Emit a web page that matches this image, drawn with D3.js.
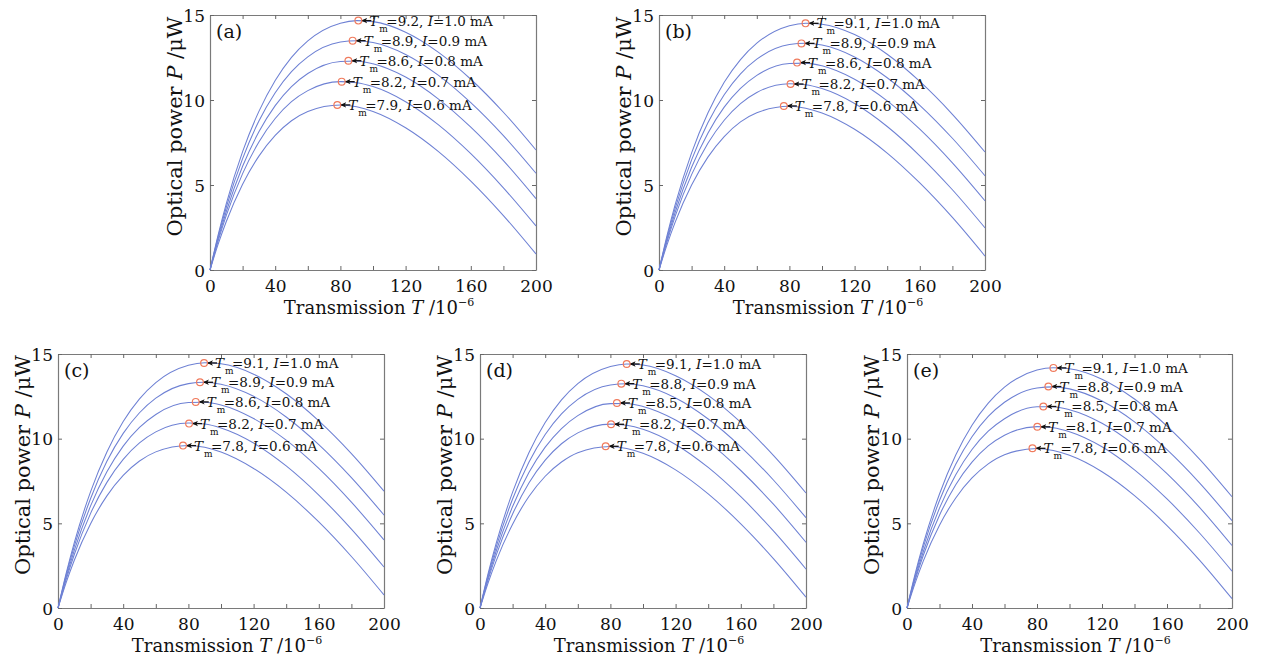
<!DOCTYPE html>
<html>
<head>
<meta charset="utf-8">
<script src="https://cdn.jsdelivr.net/npm/d3@7"></script>
<style>
  html, body { margin: 0; padding: 0; background: #fff; }
  svg { display: block; }
  svg text { font-family: "DejaVu Serif", "Liberation Serif", serif; }
</style>
</head>
<body>
<svg id="chart" width="1263" height="665"></svg>
<script>
// ---------- DATA ----------
const transmission = [0, 5, 10, 20, 30, 40, 50, 60, 80, 90, 100, 120, 140, 160, 180, 200];
const currents = ["1.0", "0.9", "0.8", "0.7", "0.6"];
const xTickValues = [0, 20, 40, 60, 80, 100, 120, 140, 160, 180, 200];
const xTickLabels = [0, 40, 80, 120, 160, 200];
const yTickValues = [0, 5, 10, 15];

const powerA = [
  [0, 2.07, 3.91, 6.96, 9.33, 11.15, 12.51, 13.48, 14.52, 14.67, 14.61, 13.99, 12.82, 11.22, 9.28, 7.06],
  [0, 1.96, 3.69, 6.55, 8.76, 10.43, 11.67, 12.54, 13.41, 13.49, 13.38, 12.68, 11.46, 9.84, 7.90, 5.69],
  [0, 1.83, 3.44, 6.10, 8.13, 9.67, 10.79, 11.56, 12.27, 12.30, 12.13, 11.35, 10.07, 8.40, 6.43, 4.20],
  [0, 1.71, 3.21, 5.67, 7.53, 8.91, 9.90, 10.55, 11.08, 11.02, 10.79, 9.90, 8.55, 6.84, 4.83, 2.59],
  [0, 1.52, 2.85, 5.04, 6.70, 7.92, 8.78, 9.33, 9.71, 9.60, 9.33, 8.37, 6.98, 5.23, 3.20, 0.94]
];
const powerB = [
  [0, 2.05, 3.87, 6.89, 9.23, 11.04, 12.38, 13.34, 14.37, 14.52, 14.46, 13.85, 12.69, 11.09, 9.16, 6.94],
  [0, 1.94, 3.65, 6.48, 8.66, 10.31, 11.54, 12.40, 13.26, 13.34, 13.23, 12.53, 11.31, 9.69, 7.75, 5.54],
  [0, 1.81, 3.41, 6.04, 8.05, 9.58, 10.68, 11.45, 12.15, 12.17, 12.01, 11.22, 9.95, 8.28, 6.30, 4.07],
  [0, 1.69, 3.18, 5.61, 7.45, 8.81, 9.79, 10.44, 10.96, 10.90, 10.67, 9.79, 8.44, 6.72, 4.72, 2.48],
  [0, 1.51, 2.83, 5.00, 6.64, 7.85, 8.71, 9.25, 9.63, 9.52, 9.24, 8.28, 6.88, 5.12, 3.09, 0.82]
];
const powerC = [
  [0, 2.04, 3.86, 6.87, 9.21, 11.01, 12.35, 13.31, 14.33, 14.48, 14.42, 13.81, 12.65, 11.05, 9.12, 6.90],
  [0, 1.94, 3.65, 6.47, 8.66, 10.31, 11.53, 12.39, 13.25, 13.33, 13.21, 12.50, 11.28, 9.65, 7.70, 5.49],
  [0, 1.81, 3.40, 6.03, 8.04, 9.56, 10.66, 11.43, 12.13, 12.15, 11.99, 11.19, 9.91, 8.24, 6.25, 4.02],
  [0, 1.68, 3.16, 5.59, 7.42, 8.78, 9.75, 10.40, 10.92, 10.86, 10.63, 9.74, 8.39, 6.67, 4.66, 2.42],
  [0, 1.50, 2.82, 4.98, 6.62, 7.83, 8.68, 9.22, 9.60, 9.49, 9.21, 8.24, 6.84, 5.08, 3.04, 0.77]
];
const powerD = [
  [0, 2.04, 3.84, 6.84, 9.17, 10.95, 12.29, 13.25, 14.26, 14.41, 14.35, 13.72, 12.56, 10.96, 9.01, 6.79],
  [0, 1.93, 3.62, 6.44, 8.61, 10.25, 11.46, 12.32, 13.17, 13.24, 13.12, 12.40, 11.16, 9.52, 7.56, 5.33],
  [0, 1.80, 3.38, 5.99, 8.00, 9.50, 10.60, 11.36, 12.07, 12.08, 11.90, 11.10, 9.81, 8.12, 6.13, 3.88],
  [0, 1.68, 3.14, 5.55, 7.38, 8.73, 9.70, 10.34, 10.86, 10.79, 10.56, 9.66, 8.30, 6.57, 4.55, 2.30],
  [0, 1.49, 2.80, 4.95, 6.58, 7.78, 8.62, 9.17, 9.54, 9.42, 9.14, 8.16, 6.74, 4.97, 2.92, 0.64]
];
const powerE = [
  [0, 2.01, 3.78, 6.73, 9.03, 10.79, 12.10, 13.04, 14.05, 14.19, 14.13, 13.51, 12.34, 10.74, 8.79, 6.57],
  [0, 1.90, 3.58, 6.35, 8.49, 10.11, 11.31, 12.15, 12.99, 13.06, 12.94, 12.22, 10.99, 9.35, 7.39, 5.16],
  [0, 1.77, 3.32, 5.90, 7.87, 9.36, 10.44, 11.18, 11.88, 11.89, 11.71, 10.91, 9.62, 7.93, 5.94, 3.69],
  [0, 1.65, 3.10, 5.48, 7.28, 8.61, 9.57, 10.20, 10.71, 10.65, 10.41, 9.52, 8.16, 6.44, 4.43, 2.18],
  [0, 1.47, 2.77, 4.89, 6.50, 7.68, 8.51, 9.05, 9.42, 9.30, 9.02, 8.05, 6.64, 4.87, 2.83, 0.55]
];

const peakTA = [91, 87.5, 84.9, 80.8, 78.1];
const peakPA = [14.67, 13.49, 12.31, 11.08, 9.71];
const peakTB = [89.9, 87.4, 84.7, 80.7, 76.6];
const peakPB = [14.51, 13.33, 12.2, 10.94, 9.65];
const peakTC = [89.6, 87.1, 84.5, 80.4, 76.7];
const peakPC = [14.47, 13.33, 12.17, 10.89, 9.59];
const peakTD = [90, 86.7, 84, 80.4, 77.1];
const peakPD = [14.41, 13.25, 12.11, 10.85, 9.55];
const peakTE = [90.1, 87, 83.9, 80.2, 77.2];
const peakPE = [14.18, 13.08, 11.9, 10.7, 9.43];

const tmLabelsA = ["9.2", "8.9", "8.6", "8.2", "7.9"];
const tmLabelsB = ["9.1", "8.9", "8.6", "8.2", "7.8"];
const tmLabelsC = ["9.1", "8.9", "8.6", "8.2", "7.8"];
const tmLabelsD = ["9.1", "8.8", "8.5", "8.2", "7.8"];
const tmLabelsE = ["9.1", "8.8", "8.5", "8.1", "7.8"];

const panelNames = ["(a)", "(b)", "(c)", "(d)", "(e)"];

// ---------- LAYOUT ----------
const panels = [
  { name: panelNames[0], l: 210, r: 536, t: 15, b: 270, power: powerA, pT: peakTA, pP: peakPA, tm: tmLabelsA },
  { name: panelNames[1], l: 659, r: 985, t: 15, b: 270, power: powerB, pT: peakTB, pP: peakPB, tm: tmLabelsB },
  { name: panelNames[2], l: 58, r: 384, t: 354, b: 608, power: powerC, pT: peakTC, pP: peakPC, tm: tmLabelsC },
  { name: panelNames[3], l: 480, r: 806, t: 354, b: 608, power: powerD, pT: peakTD, pP: peakPD, tm: tmLabelsD },
  { name: panelNames[4], l: 907, r: 1232, t: 354, b: 608, power: powerE, pT: peakTE, pP: peakPE, tm: tmLabelsE }
];

const svg = d3.select("#chart");
svg.append("rect").attr("width", 1263).attr("height", 665).attr("fill", "#fff");

const defs = svg.append("defs");
defs.append("marker")
  .attr("id", "ah")
  .attr("viewBox", "0 0 10 10")
  .attr("refX", 9).attr("refY", 5)
  .attr("markerWidth", 6).attr("markerHeight", 6)
  .attr("markerUnits", "userSpaceOnUse")
  .attr("orient", "auto")
  .append("path").attr("d", "M0,0.5 L10,5 L0,9.5 L2.5,5 z").attr("fill", "#111");

function drawPanel(p) {
  const x = d3.scaleLinear().domain([0, 200]).range([p.l, p.r]);
  const y = d3.scaleLinear().domain([0, 15]).range([p.b, p.t]);
  const g = svg.append("g");

  const ax = d3.axisBottom(x).tickValues(xTickValues)
    .tickSizeInner(-4).tickSizeOuter(0).tickPadding(10)
    .tickFormat(d => xTickLabels.includes(d) ? d : "");
  const gx = g.append("g").attr("transform", `translate(0,${p.b})`).call(ax);
  const axTop = d3.axisTop(x).tickValues(xTickValues).tickSizeInner(-4).tickSizeOuter(0).tickFormat("");
  const gxt = g.append("g").attr("transform", `translate(0,${p.t})`).call(axTop);
  const ay = d3.axisLeft(y).tickValues(yTickValues).tickSizeInner(-4).tickSizeOuter(0).tickPadding(5);
  const gy = g.append("g").attr("transform", `translate(${p.l},0)`).call(ay);
  const ayr = d3.axisRight(y).tickValues(yTickValues).tickSizeInner(-4).tickSizeOuter(0).tickFormat("");
  const gyr = g.append("g").attr("transform", `translate(${p.r},0)`).call(ayr);

  [gx, gxt, gy, gyr].forEach(a => {
    a.attr("font-family", null);
    a.select(".domain").attr("stroke", "#7a7a7a").attr("stroke-width", 1.2);
    a.selectAll(".tick line").attr("stroke", "#666");
    a.selectAll("text").attr("font-size", 17).attr("fill", "#111");
  });
  gy.selectAll("text").attr("dy", "0.36em");

  const line = d3.line()
    .x((d, i) => x(transmission[i]))
    .y(d => y(d))
    .curve(d3.curveMonotoneX);
  g.selectAll("path.curve").data(p.power).enter().append("path")
    .attr("class", "curve")
    .attr("d", line)
    .attr("fill", "none")
    .attr("stroke", "#6e81d4")
    .attr("stroke-width", 1.05);

  p.pT.forEach((tv, i) => {
    const cx = x(tv), cy = y(p.pP[i]);
    g.append("line")
      .attr("x1", cx + 13).attr("y1", cy).attr("x2", cx + 3.5).attr("y2", cy)
      .attr("stroke", "#111").attr("stroke-width", 1.3)
      .attr("marker-end", "url(#ah)");
    g.append("circle").attr("cx", cx).attr("cy", cy).attr("r", 3.4)
      .attr("fill", "none").attr("stroke", "#f07a5c").attr("stroke-width", 1.2);
    const t = g.append("text").attr("font-size", 13.5).attr("fill", "#111")
      .attr("y", cy + 5);
    t.append("tspan").attr("x", cx + 11).attr("font-style", "italic").text("T");
    t.append("tspan").attr("x", cx + 21).attr("dy", 6).attr("font-size", 9).text("m");
    t.append("tspan").attr("x", cx + 28).attr("dy", -6).text("=" + p.tm[i] + ", ");
    t.append("tspan").attr("font-style", "italic").text("I");
    t.append("tspan").text("=" + currents[i] + " mA");
  });

  g.append("text").attr("x", p.l + 6).attr("y", p.t + 23)
    .attr("font-size", 19).attr("fill", "#111").text(p.name);

  const xt = g.append("text")
    .attr("x", (p.l + p.r) / 2 + 6).attr("y", p.b + 44)
    .attr("text-anchor", "middle")
    .attr("font-size", 18).attr("fill", "#111");
  xt.append("tspan").text("Transmission ");
  xt.append("tspan").attr("font-style", "italic").text("T");
  xt.append("tspan").text(" /10");
  xt.append("tspan").attr("font-size", 11).attr("dy", -8).text("\u22126");

  const cyT = (p.t + p.b) / 2 - 16;
  const yt = g.append("text")
    .attr("transform", `translate(${p.l - 28},${cyT}) rotate(-90)`)
    .attr("text-anchor", "middle")
    .attr("font-size", 21).attr("fill", "#111");
  yt.append("tspan").text("Optical power ");
  yt.append("tspan").attr("font-style", "italic").text("P");
  yt.append("tspan").text(" /\u03BCW");
}

panels.forEach(drawPanel);
</script>
</body>
</html>
